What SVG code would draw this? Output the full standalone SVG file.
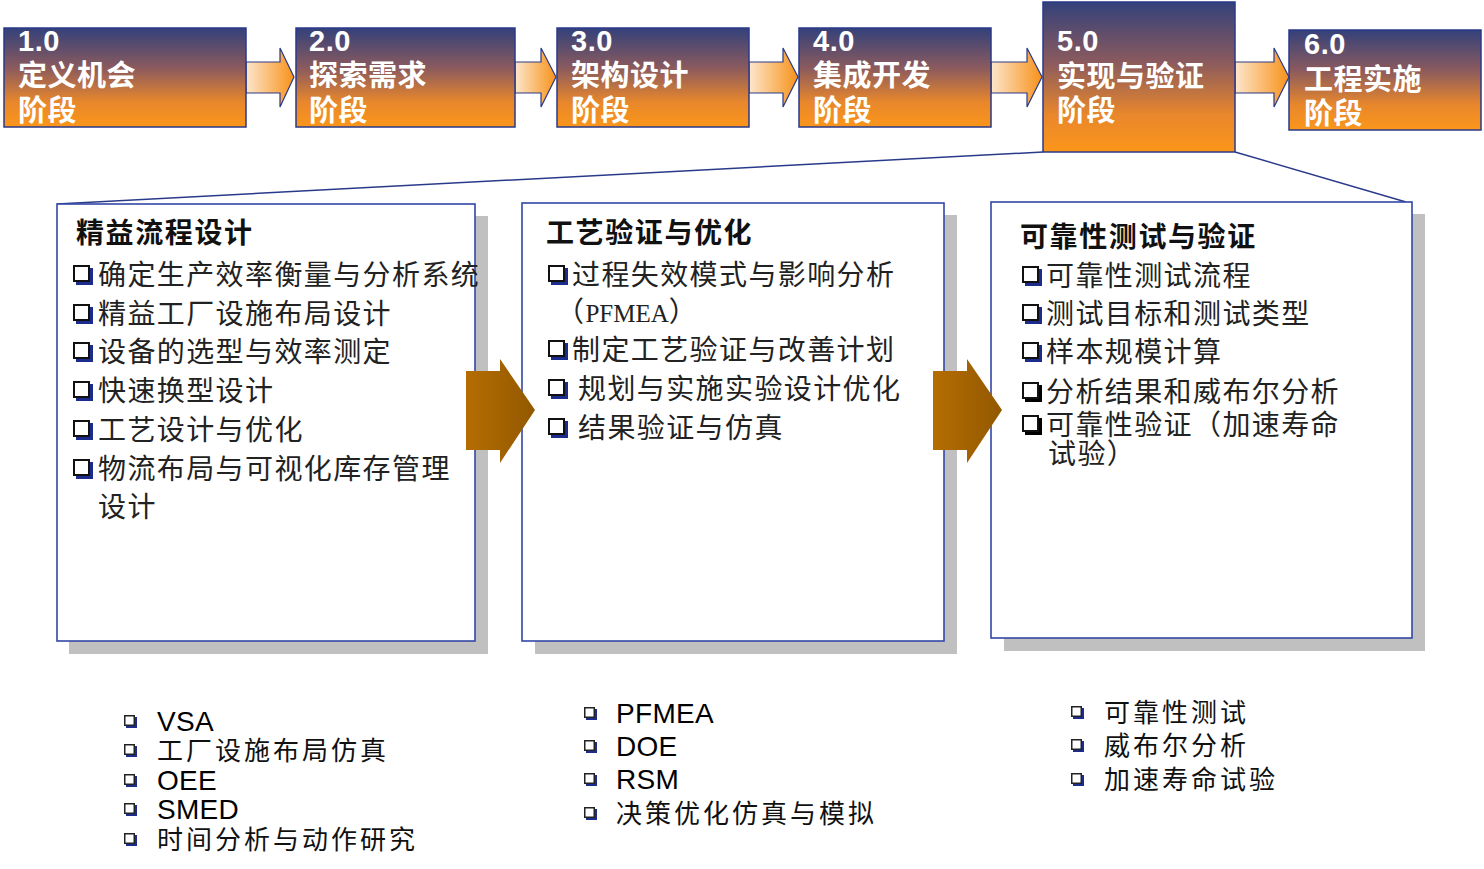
<svg xmlns="http://www.w3.org/2000/svg" xmlns:xlink="http://www.w3.org/1999/xlink" width="1484" height="869" viewBox="0 0 1484 869">
<defs>
<linearGradient id="phaseGrad" x1="0" y1="0" x2="0" y2="1">
<stop offset="0" stop-color="#33417a"/>
<stop offset="0.4" stop-color="#8a5a5e"/>
<stop offset="0.75" stop-color="#e8872c"/>
<stop offset="1" stop-color="#fb961a"/>
</linearGradient>
<linearGradient id="flowGrad" x1="0" y1="0" x2="1" y2="0">
<stop offset="0" stop-color="#fde6cc"/>
<stop offset="1" stop-color="#f7921a"/>
</linearGradient>
<linearGradient id="brownGrad" x1="0" y1="0" x2="1" y2="0">
<stop offset="0" stop-color="#b56d02"/>
<stop offset="1" stop-color="#925800"/>
</linearGradient>
<symbol id="cb" overflow="visible">
<rect x="3" y="3" width="17" height="17" fill="#1c2c8c"/>
<rect x="1" y="1" width="15" height="15" fill="#fff" stroke="#111" stroke-width="2"/>
</symbol>
<symbol id="cbk" overflow="visible">
<rect x="3" y="3" width="17" height="17" fill="#000"/>
<rect x="1" y="1" width="15" height="15" fill="#fff" stroke="#111" stroke-width="2"/>
</symbol>
<symbol id="cbs" overflow="visible">
<rect x="2" y="2" width="11" height="11" fill="#1c2c8c"/>
<rect x="0.75" y="0.75" width="9.5" height="9.5" fill="#fff" stroke="#222" stroke-width="1.5"/>
</symbol>
</defs>
<style>
.phase{fill:url(#phaseGrad);stroke:#2a3a8a;stroke-width:1.5}
.pt{font-family:"Liberation Sans","Noto Sans CJK SC",sans-serif;font-weight:bold;font-size:29px;fill:#fff;letter-spacing:0.5px}
.flow{fill:url(#flowGrad);stroke:#2a3a8a;stroke-width:1.2}
.big{fill:url(#brownGrad)}
.fan{stroke:#2a3a8a;stroke-width:1.5;fill:none}
.card{fill:#fff;stroke:#3347a6;stroke-width:1.6}
.shadow{fill:#c0c0c0}
.ttl{font-family:"Liberation Sans","Noto Sans CJK SC",sans-serif;font-weight:bold;font-size:28px;fill:#111;letter-spacing:1.6px}
.it{font-family:"Liberation Sans","Noto Sans CJK SC",sans-serif;font-size:28px;fill:#222;letter-spacing:1.4px}
.ser{font-family:"Liberation Serif",serif;font-size:25px;letter-spacing:0}
.li{font-family:"Liberation Sans","Noto Sans CJK SC",sans-serif;font-size:26px;fill:#111;letter-spacing:3px}
.la{font-family:"Liberation Sans",sans-serif;font-size:28px;fill:#000;letter-spacing:0.3px}
</style>
<rect width="1484" height="869" fill="#fff"/>

<g id="connectors">
<line class="fan" x1="1043" y1="152" x2="57" y2="204"/>
<line class="fan" x1="1235" y1="152" x2="1406" y2="202"/>
<polygon class="flow" points="246,62 280,62 280,48 294,77 280,107 280,93 246,93"/>
<polygon class="flow" points="515,62 541,62 541,48 556,77 541,107 541,93 515,93"/>
<polygon class="flow" points="749,62 783,62 783,48 798,77 783,107 783,93 749,93"/>
<polygon class="flow" points="991,62 1027,62 1027,48 1042,77 1027,107 1027,93 991,93"/>
<polygon class="flow" points="1235,62 1274,62 1274,48 1289,77 1274,107 1274,93 1235,93"/>
</g>

<g id="phase1"><rect class="phase" x="4" y="28" width="242" height="99"/>
<text class="pt" x="18" y="51">1.0</text><text class="pt" x="18" y="86">定义机会</text><text class="pt" x="18" y="121">阶段</text></g>
<g id="phase2"><rect class="phase" x="296" y="28" width="219" height="99"/>
<text class="pt" x="309" y="51">2.0</text><text class="pt" x="309" y="86">探索需求</text><text class="pt" x="309" y="121">阶段</text></g>
<g id="phase3"><rect class="phase" x="557" y="28" width="192" height="99"/>
<text class="pt" x="571" y="51">3.0</text><text class="pt" x="571" y="86">架构设计</text><text class="pt" x="571" y="121">阶段</text></g>
<g id="phase4"><rect class="phase" x="799" y="28" width="192" height="99"/>
<text class="pt" x="813" y="51">4.0</text><text class="pt" x="813" y="86">集成开发</text><text class="pt" x="813" y="121">阶段</text></g>
<g id="phase5"><rect class="phase" x="1043" y="2" width="192" height="150"/>
<text class="pt" x="1057" y="51">5.0</text><text class="pt" x="1057" y="87">实现与验证</text><text class="pt" x="1057" y="121">阶段</text></g>
<g id="phase6"><rect class="phase" x="1289" y="30" width="192" height="100"/>
<text class="pt" x="1304" y="54">6.0</text><text class="pt" x="1304" y="90">工程实施</text><text class="pt" x="1304" y="124">阶段</text></g>

<g id="card-lean">
<rect class="shadow" x="69" y="216" width="419" height="438"/>
<rect class="card" x="57" y="204" width="418" height="437"/>
<text class="ttl" x="76" y="243">精益流程设计</text>
<use xlink:href="#cb" x="73" y="265"/><text class="it" x="98" y="285">确定生产效率衡量与分析系统</text>
<use xlink:href="#cb" x="73" y="304"/><text class="it" x="98" y="324">精益工厂设施布局设计</text>
<use xlink:href="#cb" x="73" y="342"/><text class="it" x="98" y="362">设备的选型与效率测定</text>
<use xlink:href="#cb" x="73" y="381"/><text class="it" x="98" y="401">快速换型设计</text>
<use xlink:href="#cb" x="73" y="420"/><text class="it" x="98" y="440">工艺设计与优化</text>
<use xlink:href="#cb" x="73" y="459"/><text class="it" x="98" y="479">物流布局与可视化库存管理</text>
<text class="it" x="98" y="517">设计</text>
</g>

<g id="card-process">
<rect class="shadow" x="535" y="215" width="422" height="439"/>
<rect class="card" x="522" y="203" width="422" height="438"/>
<text class="ttl" x="546" y="243">工艺验证与优化</text>
<use xlink:href="#cb" x="548" y="265"/><text class="it" x="572" y="285">过程失效模式与影响分析</text>
<text class="it" x="556" y="322">（<tspan class="ser">PFMEA</tspan>）</text>
<use xlink:href="#cb" x="548" y="340"/><text class="it" x="572" y="360">制定工艺验证与改善计划</text>
<use xlink:href="#cb" x="548" y="379"/><text class="it" x="578" y="399">规划与实施实验设计优化</text>
<use xlink:href="#cb" x="548" y="418"/><text class="it" x="578" y="438">结果验证与仿真</text>
</g>

<g id="card-reliability">
<rect class="shadow" x="1004" y="214" width="421" height="437"/>
<rect class="card" x="991" y="202" width="421" height="436"/>
<text class="ttl" x="1020" y="247">可靠性测试与验证</text>
<use xlink:href="#cb" x="1022" y="266"/><text class="it" x="1046" y="286">可靠性测试流程</text>
<use xlink:href="#cb" x="1022" y="304"/><text class="it" x="1046" y="324">测试目标和测试类型</text>
<use xlink:href="#cb" x="1022" y="342"/><text class="it" x="1046" y="362">样本规模计算</text>
<use xlink:href="#cbk" x="1022" y="382"/><text class="it" x="1046" y="402">分析结果和威布尔分析</text>
<use xlink:href="#cbk" x="1022" y="415"/><text class="it" x="1046" y="435">可靠性验证（加速寿命</text>
<text class="it" x="1048" y="464">试验）</text>
</g>

<g id="big-arrows">
<polygon class="big" points="466,371 500,371 500,359 535,410 500,463 500,450 466,450"/>
<polygon class="big" points="933,371 967,371 967,359 1002,410 967,463 967,450 933,450"/>
</g>

<g id="tools-lean">
<use xlink:href="#cbs" x="124" y="715"/><text class="la" x="157" y="731">VSA</text>
<use xlink:href="#cbs" x="124" y="744"/><text class="li" x="157" y="760">工厂设施布局仿真</text>
<use xlink:href="#cbs" x="124" y="774"/><text class="la" x="157" y="790">OEE</text>
<use xlink:href="#cbs" x="124" y="803"/><text class="la" x="157" y="819">SMED</text>
<use xlink:href="#cbs" x="124" y="833"/><text class="li" x="157" y="849">时间分析与动作研究</text>
</g>

<g id="tools-process">
<use xlink:href="#cbs" x="584" y="707"/><text class="la" x="616" y="723">PFMEA</text>
<use xlink:href="#cbs" x="584" y="740"/><text class="la" x="616" y="756">DOE</text>
<use xlink:href="#cbs" x="584" y="773"/><text class="la" x="616" y="789">RSM</text>
<use xlink:href="#cbs" x="584" y="807"/><text class="li" x="616" y="823">决策优化仿真与模拟</text>
</g>

<g id="tools-reliability">
<use xlink:href="#cbs" x="1071" y="706"/><text class="li" x="1104" y="722">可靠性测试</text>
<use xlink:href="#cbs" x="1071" y="739"/><text class="li" x="1104" y="755">威布尔分析</text>
<use xlink:href="#cbs" x="1071" y="773"/><text class="li" x="1104" y="789">加速寿命试验</text>
</g>
</svg>
